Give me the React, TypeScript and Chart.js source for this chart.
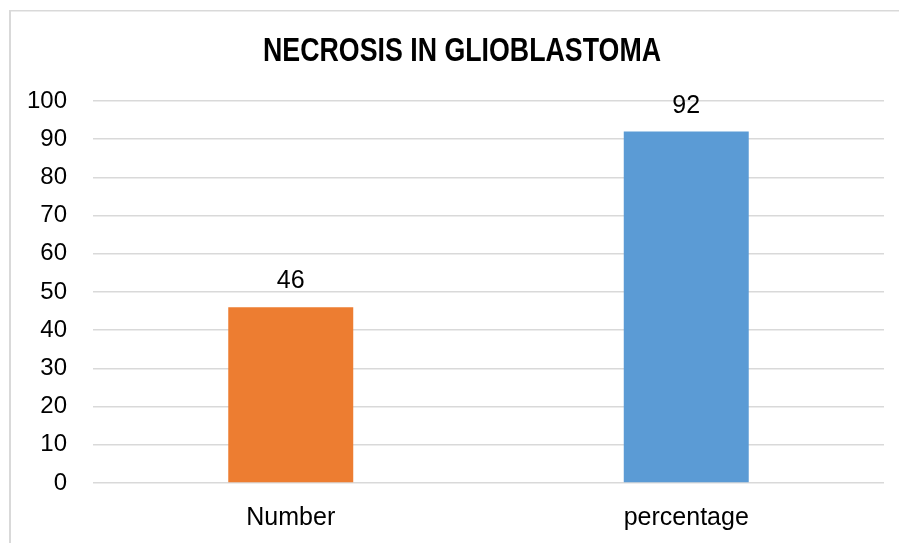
import React, { useEffect, useRef } from "react";
import { Chart, registerables } from "chart.js";

Chart.register(...registerables);

// Chart content
const chartTitle = "NECROSIS IN GLIOBLASTOMA";
const categories = ["Number", "percentage"];
const values = [46, 92];
const barColors = ["#ED7D31", "#5B9BD5"];
const yTicks = [0, 10, 20, 30, 40, 50, 60, 70, 80, 90, 100];

const BASE_FONT = "'Liberation Sans', Arial, sans-serif";

// Light frame around the chart
const framePlugin = {
  id: "frame",
  beforeDraw(chart: any) {
    const { ctx } = chart;
    ctx.save();
    ctx.fillStyle = "#ffffff";
    ctx.fillRect(0, 0, chart.width, chart.height);
    ctx.fillStyle = "#d9d9d9";
    ctx.fillRect(9, 10, 2, chart.height - 10);
    ctx.fillRect(9, 10, chart.width - 9, 1.5);
    ctx.restore();
  },
};

// Condensed bold heading, centred over the chart
const headingPlugin = {
  id: "heading",
  afterDraw(chart: any) {
    const { ctx } = chart;
    ctx.save();
    ctx.font = `bold 34px ${BASE_FONT}`;
    ctx.fillStyle = "#000000";
    ctx.textAlign = "center";
    ctx.textBaseline = "alphabetic";
    const natural = ctx.measureText(chartTitle).width;
    const squeeze = Math.min(1, 398 / natural);
    ctx.translate(462, 61);
    ctx.scale(squeeze, 1);
    ctx.fillText(chartTitle, 0, 0);
    ctx.restore();
  },
};

// Value labels above each bar
const valueLabelPlugin = {
  id: "valueLabels",
  afterDatasetsDraw(chart: any) {
    const { ctx } = chart;
    const meta = chart.getDatasetMeta(0);
    ctx.save();
    ctx.font = `25px ${BASE_FONT}`;
    ctx.fillStyle = "#000000";
    ctx.textAlign = "center";
    ctx.textBaseline = "alphabetic";
    meta.data.forEach((bar: any, i: number) => {
      ctx.fillText(String(values[i]), bar.x, bar.y - 19);
    });
    ctx.restore();
  },
};

export default function App() {
  const canvasRef = useRef<HTMLCanvasElement | null>(null);

  useEffect(() => {
    if (!canvasRef.current) return;
    const chart = new Chart(canvasRef.current, {
      type: "bar",
      data: {
        labels: categories,
        datasets: [
          {
            data: values,
            backgroundColor: barColors,
            borderWidth: 0,
            barPercentage: 0.316,
            categoryPercentage: 1,
          },
        ],
      },
      options: {
        animation: false,
        responsive: false,
        devicePixelRatio: 1,
        layout: { padding: { left: 0, right: 15, top: 101, bottom: 0 } },
        plugins: {
          legend: { display: false },
          tooltip: { enabled: false },
          title: { display: false },
        },
        scales: {
          x: {
            afterFit(scale: any) {
              scale.height = 60;
            },
            grid: { display: false, drawTicks: false },
            border: { display: false },
            ticks: {
              color: "#000000",
              font: { family: BASE_FONT, size: 25 },
              padding: 20,
            },
          },
          y: {
            min: 0,
            max: 100,
            afterBuildTicks(scale: any) {
              scale.ticks = yTicks.map((v) => ({ value: v }));
            },
            afterFit(scale: any) {
              scale.width = 93;
            },
            grid: { color: "#d9d9d9", lineWidth: 1.5, drawTicks: false },
            border: { display: false },
            ticks: {
              color: "#000000",
              font: { family: BASE_FONT, size: 24 },
              padding: 26,
            },
          },
        },
      },
      plugins: [framePlugin, valueLabelPlugin, headingPlugin],
    });
    return () => chart.destroy();
  }, []);

  return (
    <div style={{ position: "fixed", left: 0, top: 0, width: 899, height: 543 }}>
      <canvas ref={canvasRef} width={899} height={543} style={{ display: "block" }} />
    </div>
  );
}
